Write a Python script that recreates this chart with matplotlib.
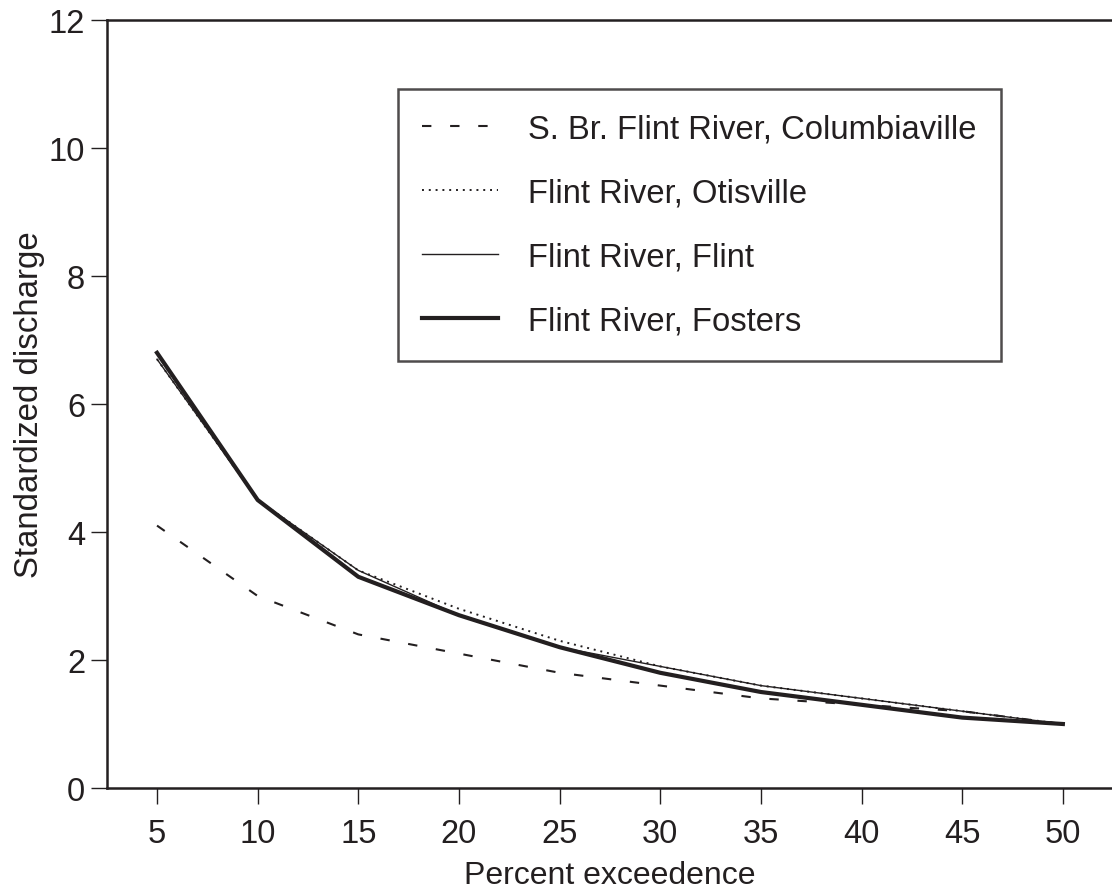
import matplotlib
matplotlib.use("Agg")
import matplotlib.pyplot as plt

plt.rcParams['font.family'] = ['Liberation Sans', 'DejaVu Sans']

ink = "#231f20"

exceedence = [5, 10, 15, 20, 25, 30, 35, 40, 45, 50]
columbiaville = [4.1, 3.0, 2.4, 2.1, 1.8, 1.6, 1.4, 1.3, 1.2, 1.0]
otisville = [6.7, 4.5, 3.4, 2.8, 2.3, 1.9, 1.6, 1.4, 1.2, 1.0]
flint = [6.7, 4.5, 3.4, 2.7, 2.2, 1.9, 1.6, 1.4, 1.2, 1.0]
fosters = [6.8, 4.5, 3.3, 2.7, 2.2, 1.8, 1.5, 1.3, 1.1, 1.0]

labels = ["S. Br. Flint River, Columbiaville", "Flint River, Otisville",
          "Flint River, Flint", "Flint River, Fosters"]

fig = plt.figure(figsize=(11.12, 8.95), dpi=100)
ax = fig.add_axes([106.7 / 1112, 1 - 789 / 895, 1006.5 / 1112, 768 / 895])

ax.plot(exceedence, columbiaville, color=ink, lw=1.5, dashes=(4.5, 9), label=labels[0])
ax.plot(exceedence, otisville, color=ink, lw=1.4, dashes=(1, 2.5), label=labels[1])
ax.plot(exceedence, flint, color=ink, lw=1.0, label=labels[2])
ax.plot(exceedence, fosters, color=ink, lw=3.0, label=labels[3])

ax.set_xlim(2.5, 52.5)
ax.set_ylim(0, 12)
ax.set_xticks(exceedence)
ax.set_yticks([0, 2, 4, 6, 8, 10, 12])

for s in ["left", "bottom", "top"]:
    ax.spines[s].set_linewidth(1.8)
    ax.spines[s].set_color(ink)
ax.spines["right"].set_visible(False)

ax.tick_params(direction="out", length=11.5, width=1.0, color=ink,
               labelsize=23.5, labelcolor=ink, pad=4)
ax.tick_params(axis="x", pad=10)

ax.set_xlabel("Percent exceedence", fontsize=23, color=ink, labelpad=8)
ax.set_ylabel("Standardized discharge", fontsize=23.8, color=ink, labelpad=3)

leg = ax.legend(loc="upper left", bbox_to_anchor=(0.2892, 0.910), borderaxespad=0,
                fontsize=23.6, frameon=True, fancybox=False, handlelength=2.3,
                handletextpad=0.92, labelspacing=1.0, borderpad=0.75)
leg.get_frame().set_edgecolor(ink)
leg.get_frame().set_linewidth(1.8)
for t in leg.get_texts():
    t.set_color(ink)

fig.savefig("out.png", dpi=100)
